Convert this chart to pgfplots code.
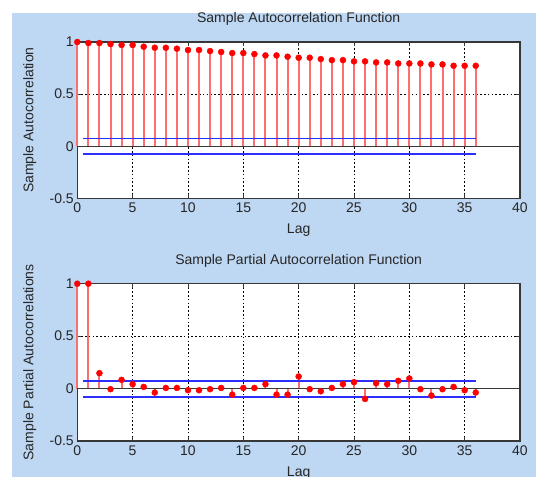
\documentclass[border=0pt]{standalone}
\usepackage{fontspec}
\setmainfont{Liberation Sans}
\usepackage{pgfplots}
\pgfplotsset{compat=1.18}
\definecolor{bgblue}{RGB}{190,215,242}
\definecolor{stemred}{RGB}{255,110,110}
\definecolor{dotred}{RGB}{255,0,0}
\definecolor{boundblue}{RGB}{45,45,255}
\definecolor{boxgray}{RGB}{55,55,55}

\pgfplotstableread{
lag acf
0 1.000
1 0.990
2 0.990
3 0.980
4 0.971
5 0.971
6 0.955
7 0.945
8 0.945
9 0.936
10 0.923
11 0.923
12 0.913
13 0.904
14 0.894
15 0.894
16 0.884
17 0.871
18 0.871
19 0.859
20 0.849
21 0.849
22 0.836
23 0.826
24 0.826
25 0.814
26 0.814
27 0.804
28 0.804
29 0.794
30 0.794
31 0.794
32 0.785
33 0.785
34 0.772
35 0.772
36 0.772
}\acftable

\pgfplotstableread{
lag pacf
0 1.000
1 1.000
2 0.147
3 -0.006
4 0.083
5 0.042
6 0.016
7 -0.038
8 0.006
9 0.006
10 -0.016
11 -0.016
12 -0.006
13 0.006
14 -0.058
15 0.006
16 0.006
17 0.042
18 -0.058
19 -0.058
20 0.115
21 -0.006
22 -0.026
23 0.006
24 0.042
25 0.061
26 -0.099
27 0.051
28 0.042
29 0.074
30 0.096
31 -0.006
32 -0.067
33 -0.006
34 0.016
35 -0.016
36 -0.038
}\pacftable

\pgfplotsset{
 corrpanel/.style={
  scale only axis, width=442.7pt,
  xmin=0,xmax=40,ymin=-0.5,ymax=1,
  xtick={0,5,...,40}, ytick={-0.5,0,0.5,1},
  grid=major,
  major grid style={black,line width=0.9pt,dash pattern=on 1.6pt off 2.2pt},
  axis line style={boxgray,line width=1.1pt},
  tick align=inside, major tick length=4pt,
  tick style={boxgray,line width=0.9pt},
  axis background/.style={fill=white},
  clip=false,
  /pgf/number format/assume math mode=true,
  tick label style={font=\fontsize{14}{16}\selectfont, text=black!85},
  xticklabel style={yshift=-1pt},
  label style={font=\fontsize{14}{16}\selectfont, text=black!85},
  title style={font=\fontsize{14}{16}\selectfont, text=black!85,
   at={(axis description cs:0.5,1)}, anchor=center, yshift=17pt},
  xlabel style={at={(axis description cs:0.5,0)}, anchor=center, yshift=-32pt},
  ylabel style={at={(axis description cs:-0.1073,0.5)}, anchor=center},
  xlabel={Lag},
 },
}

\begin{document}
\begin{tikzpicture}[x=1pt,y=1pt]
\fill[bgblue] (12,0) rectangle (560,464);

\begin{axis}[corrpanel, height=156.3pt, at={(77.3pt,278.7pt)}, anchor=south west,
 title={Sample Autocorrelation Function}, ylabel={Sample Autocorrelation}]
\addplot[ycomb, stemred, line width=2pt, no marks] table[x=lag,y=acf] {\acftable};
\addplot[boxgray, line width=1.1pt, no marks] coordinates {(0,0) (40,0)};
\addplot[boundblue, line width=1.8pt, no marks] coordinates {(0.5,0.074) (36,0.074)};
\addplot[boundblue, line width=1.8pt, no marks] coordinates {(0.5,-0.075) (36,-0.075)};
\addplot[only marks, mark=*, mark size=3pt, dotred, mark options={fill=dotred, draw=dotred}] table[x=lag,y=acf] {\acftable};
\end{axis}

\begin{axis}[corrpanel, height=157.3pt, at={(77.3pt,36pt)}, anchor=south west,
 title={Sample Partial Autocorrelation Function}, ylabel={Sample Partial Autocorrelations}]
\addplot[ycomb, stemred, line width=2pt, no marks] table[x=lag,y=pacf] {\pacftable};
\addplot[boxgray, line width=1.1pt, no marks] coordinates {(0,0) (40,0)};
\addplot[boundblue, line width=1.8pt, no marks] coordinates {(0.5,0.075) (36,0.075)};
\addplot[boundblue, line width=1.8pt, no marks] coordinates {(0.5,-0.077) (36,-0.077)};
\addplot[only marks, mark=*, mark size=3pt, dotred, mark options={fill=dotred, draw=dotred}] table[x=lag,y=pacf] {\pacftable};
\end{axis}

\pgfresetboundingbox
\useasboundingbox (0,0) rectangle (536,477);
\end{tikzpicture}
\end{document}
